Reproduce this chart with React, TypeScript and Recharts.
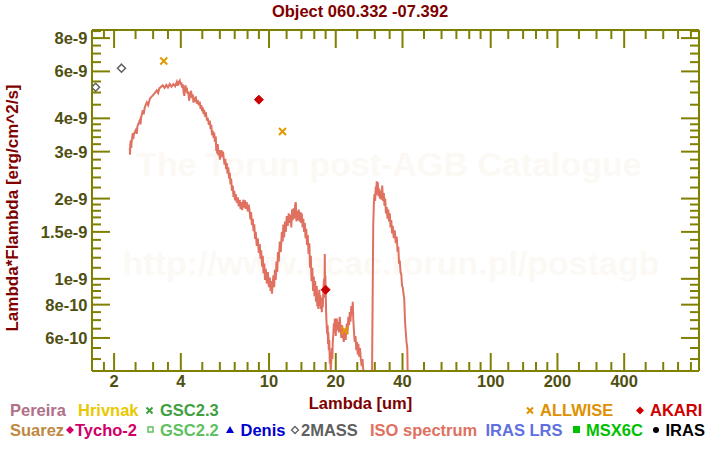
import React from 'react';
import { ComposedChart, Line, Scatter, XAxis, YAxis, ReferenceLine } from 'recharts';

const FONT = '"Liberation Sans", Arial, Helvetica, sans-serif';
const OLIVE = '#808000';
const TICK_TEXT = '#4f4f12';
const MAROON = '#800000';

const PLOT_TOP = 30;
const PLOT_RIGHT = 699;

// ISO spectrum: [wavelength (um), lambda*F_lambda in units of 1e-9 erg/cm^2/s]
const isoSpectrum: [number, number][] = [
  [2.354, 3.09], [2.36, 2.92], [2.366, 3.18], [2.378, 3.31], [2.39, 3.1], [2.4, 3.26], [2.428, 3.52], [2.44, 3.34],
  [2.46, 3.5], [2.505, 3.61], [2.53, 3.5], [2.55, 3.74], [2.612, 3.93], [2.63, 3.8], [2.65, 4.04], [2.695, 4.29],
  [2.72, 4.14], [2.75, 4.4], [2.809, 4.59], [2.85, 4.48], [2.9, 4.74], [2.99, 4.88], [3.05, 4.97], [3.117, 5.09],
  [3.16, 4.98], [3.2, 5.18], [3.317, 5.32], [3.38, 5.2], [3.44, 5.34], [3.5, 5.22], [3.566, 5.38], [3.63, 5.26],
  [3.7, 5.38], [3.77, 5.28], [3.836, 5.48], [3.87, 5.3], [3.9, 5.44], [3.957, 5.54], [3.99, 5.34], [4.02, 5.46],
  [4.05, 5.22], [4.083, 5.36], [4.12, 5.0], [4.15, 4.86], [4.18, 5.24], [4.2, 5.32], [4.23, 5.02], [4.256, 5.22],
  [4.29, 4.94], [4.32, 5.04], [4.36, 4.66], [4.391, 4.84], [4.42, 4.98], [4.45, 5.07], [4.49, 4.76], [4.529, 4.92],
  [4.56, 4.58], [4.6, 4.78], [4.64, 4.62], [4.672, 4.84], [4.72, 4.54], [4.77, 4.68], [4.82, 4.48], [4.871, 4.62],
  [4.91, 4.34], [4.95, 4.48], [4.99, 4.26], [5.025, 4.4], [5.06, 4.16], [5.1, 4.3], [5.14, 4.06], [5.184, 4.22],
  [5.24, 3.96], [5.3, 3.98], [5.35, 3.78], [5.404, 3.92], [5.45, 3.64], [5.49, 3.78], [5.53, 3.46], [5.575, 3.6],
  [5.62, 3.38], [5.66, 3.54], [5.7, 3.26], [5.751, 3.42], [5.78, 3.02], [5.81, 3.18], [5.84, 2.95], [5.872, 3.2],
  [5.91, 2.9], [5.96, 3.04], [6.0, 2.8], [6.058, 2.95], [6.1, 3.04], [6.15, 2.86], [6.2, 3.0], [6.249, 2.82],
  [6.3, 2.68], [6.35, 2.82], [6.4, 2.58], [6.447, 2.72], [6.5, 2.48], [6.55, 2.62], [6.6, 2.38], [6.651, 2.5],
  [6.7, 2.26], [6.75, 2.38], [6.8, 2.14], [6.862, 2.24], [6.91, 2.03], [6.97, 2.14], [7.02, 1.97], [7.078, 2.08],
  [7.15, 1.93], [7.23, 2.02], [7.3, 1.87], [7.379, 1.98], [7.44, 1.83], [7.5, 1.94], [7.56, 1.81], [7.613, 1.92],
  [7.67, 1.98], [7.73, 1.85], [7.79, 1.97], [7.852, 1.83], [7.93, 1.94], [8.02, 1.79], [8.1, 1.9], [8.187, 1.77],
  [8.24, 1.67], [8.3, 1.78], [8.37, 1.59], [8.446, 1.68], [8.51, 1.51], [8.58, 1.6], [8.65, 1.41], [8.713, 1.5],
  [8.8, 1.33], [8.9, 1.42], [8.99, 1.25], [9.082, 1.35], [9.15, 1.19], [9.22, 1.28], [9.3, 1.11], [9.37, 1.22],
  [9.44, 1.05], [9.52, 1.14], [9.59, 0.99], [9.667, 1.09], [9.77, 0.96], [9.88, 1.06], [9.98, 0.93], [10.08, 1.01],
  [10.16, 0.9], [10.24, 0.98], [10.31, 0.88], [10.39, 0.97], [10.47, 1.03], [10.55, 0.93], [10.63, 1.08], [10.72, 0.99],
  [10.8, 1.16], [10.89, 1.06], [10.97, 1.26], [11.06, 1.16], [11.18, 1.38], [11.3, 1.26], [11.42, 1.5], [11.53, 1.38],
  [11.6, 1.6], [11.7, 1.43], [11.8, 1.64], [11.9, 1.5], [12.02, 1.72], [12.15, 1.58], [12.27, 1.76], [12.4, 1.62],
  [12.5, 1.74], [12.6, 1.56], [12.7, 1.82], [12.79, 1.66], [12.9, 1.84], [13.0, 1.68], [13.1, 1.88], [13.2, 1.94],
  [13.3, 1.64], [13.4, 1.8], [13.51, 1.66], [13.62, 1.82], [13.73, 1.64], [13.85, 1.78], [13.95, 1.62], [14.05, 1.76],
  [14.17, 1.56], [14.28, 1.68], [14.39, 1.5], [14.5, 1.62], [14.61, 1.42], [14.72, 1.54], [14.83, 1.34], [14.95, 1.46],
  [15.07, 1.24], [15.2, 1.36], [15.31, 1.1], [15.43, 1.22], [15.55, 0.98], [15.68, 1.1], [15.8, 0.9], [15.92, 1.02],
  [16.03, 0.86], [16.15, 0.98], [16.28, 0.82], [16.42, 0.94], [16.51, 0.79], [16.6, 0.88], [16.68, 0.77], [16.76, 0.84],
  [16.86, 0.91], [16.95, 0.79], [17.03, 0.87], [17.12, 0.77], [17.21, 0.85], [17.3, 0.75], [17.39, 0.85], [17.47, 0.78],
  [17.58, 0.91], [17.7, 1.0], [17.78, 0.85], [17.84, 1.24], [17.9, 0.91], [17.95, 1.03], [18.03, 0.87], [18.09, 0.75],
  [18.15, 0.7], [18.23, 0.65], [18.31, 0.62], [18.38, 0.67], [18.45, 0.57], [18.52, 0.63], [18.6, 0.54], [18.7, 0.59],
  [18.8, 0.48], [18.9, 0.53], [18.98, 0.45], [19.1, 0.5], [19.2, 0.55], [19.3, 0.5], [19.39, 0.58], [19.5, 0.62],
  [19.6, 0.68], [19.7, 0.63], [19.8, 0.71], [19.9, 0.65], [20.0, 0.61], [20.1, 0.68], [20.21, 0.71], [20.35, 0.64],
  [20.5, 0.69], [20.67, 0.63], [20.84, 0.72], [21.02, 0.65], [21.2, 0.6], [21.35, 0.67], [21.51, 0.62], [21.73, 0.58],
  [21.95, 0.65], [22.18, 0.59], [22.42, 0.68], [22.6, 0.63], [22.8, 0.72], [22.96, 0.67], [23.13, 0.75], [23.3, 0.69],
  [23.5, 0.79], [23.68, 0.73], [23.86, 0.82], [23.98, 0.71], [24.1, 0.66], [24.23, 0.61], [24.36, 0.58], [24.55, 0.61],
  [24.75, 0.54], [24.94, 0.58], [25.13, 0.52], [25.3, 0.57], [25.5, 0.51], [25.72, 0.55], [25.94, 0.5], [26.17, 0.47],
  [26.4, 0.5], [26.58, 0.46], [26.76, 0.44], [27.32, 0.34], [29.07, 0.34], [29.52, 1.6], [29.7, 1.9], [29.9, 2.08],
  [30.1, 1.96], [30.3, 2.22], [30.45, 2.06], [30.6, 2.32], [30.77, 2.12], [30.94, 2.3], [31.17, 2.04], [31.4, 2.18],
  [31.66, 2.0], [31.92, 2.14], [32.16, 1.98], [32.4, 2.24], [32.66, 1.96], [32.93, 2.1], [33.17, 1.88], [33.4, 2.0],
  [33.68, 1.76], [33.96, 1.86], [34.23, 1.68], [34.5, 1.82], [34.78, 1.64], [35.05, 1.76], [35.32, 1.56], [35.6, 1.66],
  [35.88, 1.48], [36.15, 1.58], [36.52, 1.42], [36.9, 1.52], [37.29, 1.36], [37.68, 1.44], [38.0, 1.26], [38.3, 1.32],
  [38.59, 1.14], [38.88, 1.17], [39.19, 1.06], [39.5, 1.04], [39.8, 0.94], [40.11, 0.93], [40.4, 0.88], [40.7, 0.85],
  [41.04, 0.7], [41.38, 0.63], [41.7, 0.58], [42.03, 0.55], [42.46, 0.33],
];

// photometry
const twoMassWave = [1.65, 2.16];
const twoMassFlux = [5.23e-9, 6.17e-9];
const allwiseWave = [3.35, 11.5, 22.0];
const allwiseFlux = [6.56e-9, 3.57e-9, 6.4e-10];
const akariWave = [9.0, 18.0];
const akariFlux = [4.7e-9, 9.1e-10];

// axes
const xDomain = [1.59, 870];
const yDomain = [4.51e-10, 8.58e-9];
const xLabelTicks = [2, 4, 10, 20, 40, 100, 200, 400];
const xMinorTicks = [1.8, 2.5, 3, 3.5, 5, 6, 7, 8, 9, 12, 14, 16, 18, 25, 30, 35, 50, 60, 70, 80, 90,
  120, 140, 160, 180, 250, 300, 350, 500, 600, 700, 800];
const yLabelTicks = [6e-10, 8e-10, 1e-9, 1.5e-9, 2e-9, 3e-9, 4e-9, 6e-9, 8e-9];
const yTickLabels = ['6e-10', '8e-10', '1e-9', '1.5e-9', '2e-9', '3e-9', '4e-9', '6e-9', '8e-9'];
const yMinorTicks = [5e-10, 5.5e-10, 6.5e-10, 7e-10, 7.5e-10, 8.5e-10, 9e-10, 9.5e-10, 1.1e-9, 1.2e-9, 1.3e-9,
  1.4e-9, 1.6e-9, 1.7e-9, 1.8e-9, 1.9e-9, 2.2e-9, 2.4e-9, 2.6e-9, 2.8e-9, 3.2e-9, 3.4e-9, 3.6e-9, 3.8e-9,
  4.5e-9, 5e-9, 5.5e-9, 6.5e-9, 7e-9, 7.5e-9, 8.5e-9];

const isoData = isoSpectrum.map(([x, f]) => ({ x, y: f * 1e-9 }));
const twoMassData = twoMassWave.map((x, i) => ({ x, y: twoMassFlux[i] }));
const allwiseData = allwiseWave.map((x, i) => ({ x, y: allwiseFlux[i] }));
const akariData = akariWave.map((x, i) => ({ x, y: akariFlux[i] }));

const findIdx = (list: number[], v: number) => list.findIndex((t) => Math.abs(t - v) / t < 1e-6);

const XTick = (props: any) => {
  const { x, y, payload } = props;
  const idx = findIdx(xLabelTicks, payload.value);
  const len = idx >= 0 ? 18 : 9;
  return (
    <g>
      <line x1={x} y1={y} x2={x} y2={y - len} stroke={OLIVE} strokeWidth={2} />
      <line x1={x} y1={PLOT_TOP} x2={x} y2={PLOT_TOP + len} stroke={OLIVE} strokeWidth={2} />
      {idx >= 0 && (
        <text x={x} y={y + 16} textAnchor="middle" fill={TICK_TEXT} fontFamily={FONT} fontWeight="bold" fontSize={16.5}>
          {payload.value}
        </text>
      )}
    </g>
  );
};

const YTick = (props: any) => {
  const { x, y, payload } = props;
  const idx = findIdx(yLabelTicks, payload.value);
  const len = idx >= 0 ? 18 : 9;
  return (
    <g>
      <line x1={x} y1={y} x2={x + len} y2={y} stroke={OLIVE} strokeWidth={2} />
      <line x1={PLOT_RIGHT} y1={y} x2={PLOT_RIGHT - len} y2={y} stroke={OLIVE} strokeWidth={2} />
      {idx >= 0 && (
        <text x={x - 4.5} y={y + 6} textAnchor="end" fill={TICK_TEXT} fontFamily={FONT} fontWeight="bold" fontSize={16.5}>
          {yTickLabels[idx]}
        </text>
      )}
    </g>
  );
};

const OpenDiamond = (p: any) => (
  <path d={`M${p.cx},${p.cy - 4} L${p.cx + 4},${p.cy} L${p.cx},${p.cy + 4} L${p.cx - 4},${p.cy} Z`}
    fill="none" stroke="#606060" strokeWidth={1.5} />
);
const FilledDiamond = (p: any) => (
  <path d={`M${p.cx},${p.cy - 4.5} L${p.cx + 4.5},${p.cy} L${p.cx},${p.cy + 4.5} L${p.cx - 4.5},${p.cy} Z`}
    fill="#cc0000" stroke="#cc0000" strokeWidth={1} />
);
const Cross = (p: any) => (
  <path d={`M${p.cx - 3.5},${p.cy - 3.5} L${p.cx + 3.5},${p.cy + 3.5} M${p.cx - 3.5},${p.cy + 3.5} L${p.cx + 3.5},${p.cy - 3.5}`}
    stroke="#e09a00" strokeWidth={2} fill="none" />
);

const LText = ({ x, y, color, children }: any) => (
  <text x={x} y={y} fill={color} fontFamily={FONT} fontWeight="bold" fontSize={16.5}>{children}</text>
);

const Background = () => (
  <svg width={720} height={450} style={{ position: 'absolute', left: 0, top: 0 }}>
    <text x={360} y={17} textAnchor="middle" fill={MAROON} fontFamily={FONT} fontWeight="bold" fontSize={16.5}>
      Object 060.332 -07.392
    </text>
    <text x={389} y={176} textAnchor="middle" fill="#fcf9f5" fontFamily={FONT} fontWeight="bold" fontSize={34}>
      The Torun post-AGB Catalogue
    </text>
    <text x={391} y={275} textAnchor="middle" fill="#fcf9f5" fontFamily={FONT} fontWeight="bold" fontSize={34}>
      http://www.ncac.torun.pl/postagb
    </text>
    <text x={360.5} y={409} textAnchor="middle" fill={MAROON} fontFamily={FONT} fontWeight="bold" fontSize={16.5}>
      Lambda [um]
    </text>
    <text x={18} y={208} textAnchor="middle" transform="rotate(-90 18 208)" fill={MAROON} fontFamily={FONT}
      fontWeight="bold" fontSize={17}>
      Lambda*Flambda [erg/cm^2/s]
    </text>

    {/* legend row 1 */}
    <LText x={10} y={416} color="#b07088">Pereira</LText>
    <LText x={78} y={416} color="#e8c800">Hrivnak</LText>
    <path d="M146.5,407.5 L152.5,413.5 M146.5,413.5 L152.5,407.5" stroke="#40a040" strokeWidth={2} />
    <LText x={160} y={416} color="#40a040">GSC2.3</LText>
    <path d="M527,407.5 L533,413.5 M527,413.5 L533,407.5" stroke="#e09000" strokeWidth={2} />
    <LText x={540} y={416} color="#e09000">ALLWISE</LText>
    <path d="M640,406.5 L644,410.5 L640,414.5 L636,410.5 Z" fill="#d00000" />
    <LText x={650} y={416} color="#d00000">AKARI</LText>

    {/* legend row 2 */}
    <LText x={10} y={435.5} color="#c08840">Suarez</LText>
    <path d="M70,426 L74,430 L70,434 L66,430 Z" fill="#d00068" />
    <LText x={75} y={435.5} color="#d00068">Tycho-2</LText>
    <rect x={148} y={427} width={5} height={5} fill="none" stroke="#60c060" strokeWidth={1.5} />
    <LText x={160} y={435.5} color="#60c060">GSC2.2</LText>
    <path d="M230,426 L234,433 L226,433 Z" fill="#0000d0" />
    <LText x={240.5} y={435.5} color="#0000d0">Denis</LText>
    <path d="M295,426.5 L298.5,430 L295,433.5 L291.5,430 Z" fill="none" stroke="#606060" strokeWidth={1.3} />
    <LText x={301} y={435.5} color="#606060">2MASS</LText>
    <LText x={370} y={435.5} color="#e07060">ISO spectrum</LText>
    <LText x={485.5} y={435.5} color="#6070e0">IRAS LRS</LText>
    <rect x={573} y={426} width={7} height={7} fill="#00c000" />
    <LText x={586} y={435.5} color="#00c000">MSX6C</LText>
    <circle cx={656} cy={430} r={3} fill="#000000" />
    <LText x={665.5} y={435.5} color="#000000">IRAS</LText>
  </svg>
);

export default function App() {
  return (
    <div style={{ position: 'absolute', left: 0, top: 0, width: 720, height: 450, background: '#ffffff' }}>
      <Background />
      <div style={{ position: 'absolute', left: 0, top: 0 }}>
        <ComposedChart width={720} height={450} margin={{ top: PLOT_TOP, right: 720 - PLOT_RIGHT, bottom: 0, left: 0 }}>
          <XAxis
            type="number"
            dataKey="x"
            scale="log"
            domain={xDomain}
            allowDataOverflow
            ticks={[...xMinorTicks, ...xLabelTicks].sort((a, b) => a - b)}
            interval={0}
            tick={XTick}
            tickLine={false}
            tickSize={0}
            tickMargin={0}
            axisLine={{ stroke: OLIVE, strokeWidth: 2 }}
            height={79}
          />
          <YAxis
            type="number"
            dataKey="y"
            scale="log"
            domain={yDomain}
            allowDataOverflow
            ticks={[...yMinorTicks, ...yLabelTicks].sort((a, b) => a - b)}
            interval={0}
            tick={YTick}
            tickLine={false}
            tickSize={0}
            tickMargin={0}
            axisLine={{ stroke: OLIVE, strokeWidth: 2 }}
            width={92}
          />
          <ReferenceLine y={yDomain[1]} stroke={OLIVE} strokeWidth={2} />
          <ReferenceLine x={xDomain[1]} stroke={OLIVE} strokeWidth={2} />
          <Line
            data={isoData}
            dataKey="y"
            type="linear"
            stroke="#e07060"
            strokeWidth={2}
            dot={false}
            activeDot={false}
            isAnimationActive={false}
          />
          <Scatter data={twoMassData} dataKey="y" shape={OpenDiamond} isAnimationActive={false} />
          <Scatter data={allwiseData} dataKey="y" shape={Cross} isAnimationActive={false} />
          <Scatter data={akariData} dataKey="y" shape={FilledDiamond} isAnimationActive={false} />
        </ComposedChart>
      </div>
    </div>
  );
}
